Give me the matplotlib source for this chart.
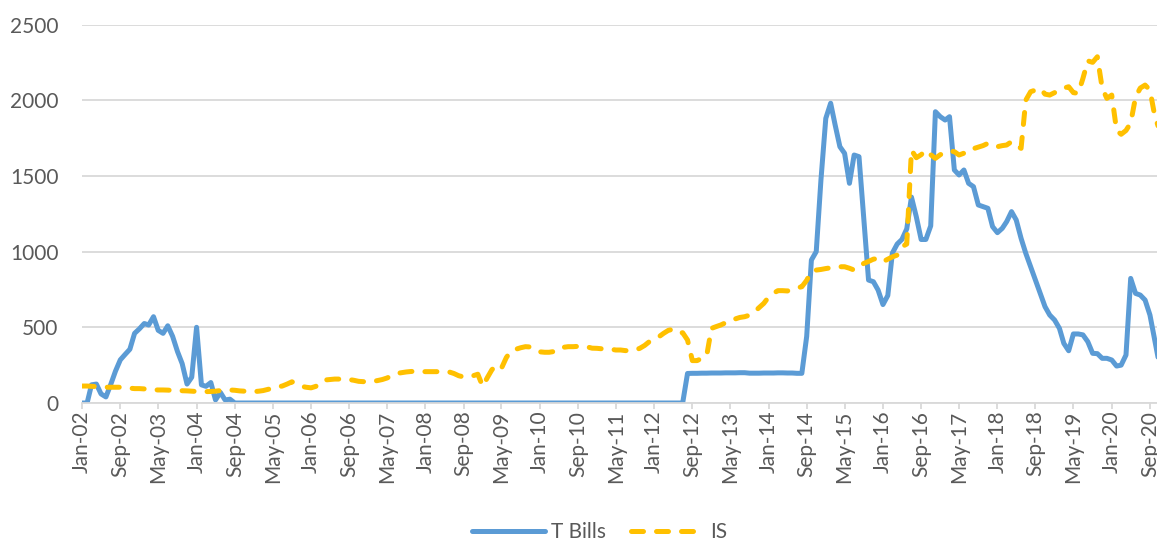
import pandas as pd
import matplotlib
matplotlib.use("Agg")
import matplotlib.pyplot as plt
import matplotlib.dates as mdates

# Monthly values, Jan-02 .. Nov-20 (one row per year)
tbills = [
    0, 0, 120, 125, 60, 40, 120, 210, 285, 320, 355, 460,            # 2002
    490, 525, 515, 570, 480, 460, 510, 440, 340, 260, 125, 170,      # 2003
    500, 120, 110, 135, 20, 70, 20, 25, 0, 0, 0, 0,                  # 2004
    0, 0, 0, 0, 0, 0, 0, 0, 0, 0, 0, 0,                              # 2005
    0, 0, 0, 0, 0, 0, 0, 0, 0, 0, 0, 0,                              # 2006
    0, 0, 0, 0, 0, 0, 0, 0, 0, 0, 0, 0,                              # 2007
    0, 0, 0, 0, 0, 0, 0, 0, 0, 0, 0, 0,                              # 2008
    0, 0, 0, 0, 0, 0, 0, 0, 0, 0, 0, 0,                              # 2009
    0, 0, 0, 0, 0, 0, 0, 0, 0, 0, 0, 0,                              # 2010
    0, 0, 0, 0, 0, 0, 0, 0, 0, 0, 0, 0,                              # 2011
    0, 0, 0, 0, 0, 0, 0, 195, 196, 196, 197, 197,                    # 2012
    198, 198, 198, 199, 199, 199, 200, 200, 197, 197, 197, 198,      # 2013
    198, 198, 199, 199, 198, 198, 196, 196, 440, 944, 1000, 1473,    # 2014
    1880, 1980, 1840, 1693, 1649, 1451, 1638, 1627, 1209, 812, 801, 746,   # 2015
    650, 710, 990, 1050, 1080, 1150, 1360, 1230, 1080, 1080, 1170, 1924,   # 2016
    1891, 1869, 1891, 1539, 1506, 1539, 1451, 1429, 1308, 1297, 1286, 1165, # 2017
    1125, 1154, 1198, 1264, 1209, 1088, 989, 900, 812, 724, 636, 581,      # 2018
    548, 493, 394, 345, 456, 456, 450, 405, 328, 326, 295, 295,      # 2019
    284, 244, 250, 317, 823, 724, 713, 680, 581, 420, 250,           # 2020
]

islm = [
    112, 112, 110, 108, 106, 104, 104, 104, 104, 102, 98, 95,        # 2002
    95, 93, 90, 87, 86, 86, 85, 83, 81, 81, 80, 78,                  # 2003
    76, 75, 75, 76, 78, 82, 86, 86, 84, 80, 78, 77,                  # 2004
    75, 78, 82, 90, 98, 106, 112, 125, 140, 125, 110, 104,           # 2005
    100, 110, 140, 152, 155, 158, 158, 158, 155, 150, 143, 141,      # 2006
    141, 143, 148, 155, 165, 180, 195, 200, 205, 208, 210, 208,      # 2007
    207, 207, 207, 207, 205, 205, 195, 180, 172, 172, 180, 190,      # 2008
    110, 170, 220, 250, 230, 300, 345, 355, 365, 372, 370, 350,      # 2009
    338, 335, 335, 340, 363, 368, 372, 372, 374, 376, 370, 362,      # 2010
    361, 358, 357, 355, 350, 350, 346, 346, 350, 361, 380, 405,      # 2011
    420, 438, 460, 480, 487, 464, 464, 416, 280, 280, 295, 310,      # 2012
    493, 505, 515, 530, 548, 555, 565, 570, 580, 600, 630, 658,      # 2013
    700, 725, 742, 742, 740, 750, 760, 768, 810, 870, 878, 882,      # 2014
    888, 893, 896, 900, 900, 890, 878, 905, 922, 935, 950, 955,      # 2015
    933, 950, 965, 977, 1032, 1050, 1670, 1620, 1640, 1671, 1640, 1616,    # 2016
    1640, 1655, 1665, 1660, 1638, 1650, 1676, 1680, 1690, 1700, 1715, 1700, # 2017
    1693, 1700, 1704, 1726, 1700, 1682, 2000, 2056, 2067, 2078, 2040, 2034, # 2018
    2050, 2071, 2080, 2089, 2050, 2045, 2144, 2260, 2250, 2287, 2080, 2012, # 2019
    2034, 1800, 1775, 1800, 1850, 2020, 2080, 2100, 2067, 1900, 1800,      # 2020
]

dates = pd.date_range("2002-01-01", periods=len(tbills), freq="MS")
tick_dates = pd.date_range("2002-01-01", "2020-10-01", freq="8MS")
y_ticks = [0, 500, 1000, 1500, 2000, 2500]

# STYLE
plt.rcParams["font.family"] = ["Lato", "DejaVu Sans"]
grey_txt = "#595959"
grid_col = "#D9D9D9"

fig = plt.figure(figsize=(11.57, 5.41), dpi=100)
ax = fig.add_axes([0.0711, 0.2551, 0.9289, 0.6996])

ax.plot(dates, tbills, color="#5B9BD5", lw=3.6, label="T Bills",
        solid_joinstyle="round", solid_capstyle="round")
is_line, = ax.plot(dates, islm, color="#FFC000", lw=3.6, label="IS",
                   dash_capstyle="round", dash_joinstyle="round")
is_line.set_dashes((2.4, 2.6))

ax.set_ylim(0, 2500)
ax.set_yticks(y_ticks)
ax.set_xlim(pd.Timestamp("2002-01-01"), pd.Timestamp("2020-10-16"))
ax.set_xticks(tick_dates)
ax.xaxis.set_major_formatter(mdates.DateFormatter("%b-%y"))

ax.grid(axis="y", color=grid_col, lw=1.3)
ax.set_axisbelow(True)
for s in ["top", "right", "left"]:
    ax.spines[s].set_visible(False)
ax.spines["bottom"].set_color(grid_col)
ax.spines["bottom"].set_linewidth(1.3)

ax.tick_params(axis="y", length=0, pad=17, labelsize=15, labelcolor=grey_txt)
ax.tick_params(axis="x", length=4, width=1.3, color=grid_col, pad=1.5,
               labelsize=15, labelcolor=grey_txt, labelrotation=90)

fig.legend(loc="center", bbox_to_anchor=(0.5186, 0.017), ncol=2, frameon=False,
           fontsize=15, labelcolor=grey_txt, handlelength=3.5,
           handletextpad=0.3, columnspacing=1.2)

plt.savefig("out.png", dpi=100)
